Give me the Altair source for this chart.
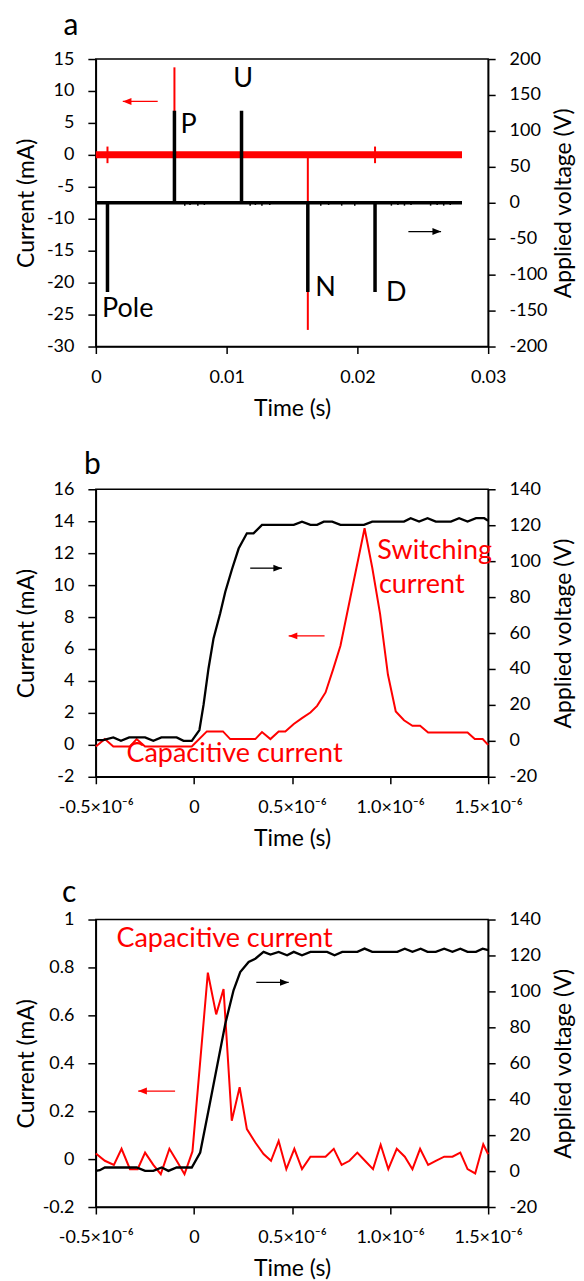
import altair as alt
import pandas as pd

FONT = "Lato"
RED = "#ff0000"
BLACK = "#000000"

# ---------------- panel a (time in s) ----------------
a_volt_t = [0.0, 0.00089, 0.00089, 0.00089, 0.00601, 0.00601, 0.00601, 0.01114, 0.01114, 0.01114,
            0.01621, 0.01621, 0.01621, 0.02135, 0.02135, 0.02135, 0.028]
a_volt_v = [0, 0, -124, 0, 0, 128, 0, 0, 128, 0, 0, -124, 0, 0, -124, 0, 0]
a_noise_t = [0.0068, 0.0072, 0.0078, 0.0083, 0.0118, 0.0122, 0.0127, 0.0133,
             0.0172, 0.0178, 0.0188, 0.0198, 0.0226, 0.0231, 0.0236, 0.0241,
             0.0256, 0.0261, 0.0266, 0.0271]
a_noise_v = [-4, -3, -4, -3, -4, -3, -4, -3, -4, -3, -4, -4, -4, -3, -4, -3, -4, -3, -4, -3]
a_base_t = [0.0, 0.028]
a_base_i = [0.0, 0.0]
a_spike_t = [0.00089, 0.00601, 0.01621, 0.02135]
a_spike_lo = [-1.3, 0.0, -27.4, -1.3]
a_spike_hi = [1.3, 13.7, 0.0, 1.3]
a_labels = ["Pole", "P", "U", "N", "D"]
a_label_t = [0.00244, 0.0071, 0.01126, 0.01756, 0.02298]
a_label_i = [-24.1, 4.6, 11.8, -20.9, -21.7]

# ---------------- panel b (time in microseconds) ----------------
b_volt_t = [-0.5, -0.463, -0.411, -0.372, -0.33, -0.249, -0.207, -0.166, -0.088, -0.053, -0.011,
            0.028, 0.049, 0.074, 0.100, 0.134, 0.160, 0.194, 0.228, 0.270, 0.304, 0.347, 0.509,
            0.551, 0.594, 0.628, 0.662, 0.705, 0.747, 0.867, 0.909, 1.071, 1.105, 1.148, 1.191,
            1.233, 1.310, 1.352, 1.395, 1.438, 1.48, 1.5]
b_volt_v = [0.4, 0.4, 1.9, 0.0, 1.9, 1.9, 0.0, 1.9, 1.9, 0.0, 0.0,
            6.0, 20.0, 40.0, 57.0, 71.0, 83.0, 95.5, 107.0, 115.5, 115.5, 120.2, 120.2,
            122.0, 120.2, 120.2, 122.0, 122.0, 120.2, 120.2, 122.0, 122.0, 123.9, 122.0, 123.9,
            122.0, 122.0, 123.9, 122.0, 123.9, 123.9, 122.5]
b_cur_t = [-0.5, -0.454, -0.411, -0.326, -0.292, -0.249, -0.011, 0.066, 0.148, 0.185, 0.313,
           0.347, 0.390, 0.432, 0.466, 0.509, 0.551, 0.594, 0.628, 0.671, 0.710, 0.747, 0.870,
           0.909, 0.949, 0.989, 1.029, 1.071, 1.114, 1.153, 1.194, 1.395, 1.432, 1.472, 1.5]
b_cur_i = [-0.1, 0.36, -0.1, -0.1, 0.36, -0.1, -0.1, 0.84, 0.84, 0.36, 0.36,
           0.8, 0.36, 0.84, 0.84, 1.3, 1.67, 2.02, 2.44, 3.28, 4.74, 6.2, 13.56,
           11.1, 8.2, 4.4, 2.09, 1.54, 1.19, 1.19, 0.77, 0.77, 0.36, 0.36, 0.0]
b_labels = ["Switching", "current", "Capacitive current"]
b_label_t = [0.935, 0.943, -0.344]
b_label_i = [12.14, 10.0, -0.55]

# ---------------- panel c (time in microseconds) ----------------
c_volt_t = [-0.5, -0.48, -0.454, -0.292, -0.249, -0.207, -0.164, -0.130, -0.088, -0.011, 0.032,
            0.074, 0.117, 0.160, 0.202, 0.236, 0.279, 0.313, 0.355, 0.390, 0.432, 0.475, 0.509,
            0.551, 0.594, 0.679, 0.717, 0.756, 0.833, 0.870, 0.909, 1.037, 1.075, 1.114, 1.156,
            1.191, 1.233, 1.276, 1.318, 1.358, 1.395, 1.438, 1.472, 1.5]
c_volt_v = [0.1, 0.5, 2.0, 2.0, 0.1, 0.1, 2.0, 0.1, 2.0, 2.0, 10.3,
            33.6, 57.8, 82.0, 100.6, 110.8, 116.4, 118.2, 122.0, 120.5, 122.0, 120.1, 122.0,
            120.1, 122.0, 122.0, 120.1, 122.0, 122.0, 123.8, 122.0, 122.0, 123.8, 122.0, 123.8,
            122.0, 122.0, 123.8, 122.0, 123.8, 122.0, 122.0, 123.8, 123.0]
c_cur_t = [-0.5, -0.454, -0.408, -0.369, -0.326, -0.287, -0.249, -0.207, -0.169, -0.125, -0.088,
           -0.048, -0.0075, 0.071, 0.1135, 0.151, 0.193, 0.233, 0.270, 0.313, 0.355, 0.393,
           0.432, 0.471, 0.512, 0.551, 0.594, 0.671, 0.713, 0.753, 0.793, 0.833, 0.872, 0.913,
           0.952, 0.991, 1.034, 1.075, 1.114, 1.153, 1.194, 1.233, 1.276, 1.318, 1.358, 1.395,
           1.434, 1.475, 1.5]
c_cur_i = [0.023, -0.007, -0.024, 0.043, -0.042, -0.042, 0.027, -0.024, -0.063, 0.043, -0.007,
           -0.063, 0.032, 0.778, 0.604, 0.710, 0.160, 0.300, 0.125, 0.069, 0.021, -0.007,
           0.076, -0.042, 0.043, -0.042, 0.010, 0.010, 0.043, -0.024, -0.007, 0.027, -0.007, -0.042,
           0.060, -0.042, 0.043, 0.010, -0.042, 0.043, -0.024, -0.007, 0.010, 0.010, 0.027, -0.042,
           -0.060, 0.062, 0.020]
c_labels = ["Capacitive current"]
c_label_t = [-0.395]
c_label_i = [0.9175]

# panel letters (placed above each plot, in that panel's time / current units)
letters = ["a", "b", "c"]
letter_t = [-0.00248, -0.56, -0.672]
letter_i = [18.7, 16.98, 1.0737]

# arrows: start x, tip x, y   (red on current axis, black on voltage axis)
a_red_arrow = ([0.00473], [0.00206], [8.36])
a_blk_arrow = ([0.0239], [0.0264], [-40.0])
b_red_arrow = ([0.666], [0.483], [6.82])
b_blk_arrow = ([0.287], [0.449], [96.1])
c_red_arrow = ([-0.096], [-0.284], [0.284])
c_blk_arrow = ([0.318], [0.483], [105.0])

W, H = 393, 288
LEFT_HEAD = "M0,0 L1,-0.4 L1,0.4 Z"
RIGHT_HEAD = "M0,0 L-1,-0.4 L-1,0.4 Z"


def xenc(field, dom, vals, expr):
    return alt.X(f"{field}:Q",
                 scale=alt.Scale(domain=dom, nice=False, zero=False),
                 axis=alt.Axis(values=vals, labelExpr=expr, title="Time (s)",
                               titleX=W / 2, titleY=62, titleAlign="center",
                               titleBaseline="middle", labelPadding=15, tickSize=7,
                               labelFlush=False, labelOverlap=False))


def yleft(field, dom, vals):
    return alt.Y(f"{field}:Q",
                 scale=alt.Scale(domain=dom, nice=False, zero=False),
                 axis=alt.Axis(values=vals, labelExpr="'' + datum.value", title="Current (mA)",
                               orient="left", titleX=-69, titleY=H / 2, titleAngle=270,
                               titleAlign="center", titleBaseline="middle",
                               labelPadding=14, tickSize=8, labelOverlap=False,
                               labelFlush=False))


def yright(field, dom, vals):
    return alt.Y(f"{field}:Q",
                 scale=alt.Scale(domain=dom, nice=False, zero=False),
                 axis=alt.Axis(values=vals, labelExpr="'' + datum.value",
                               title="Applied voltage (V)", orient="right",
                               titleX=75, titleY=H / 2, titleAngle=270,
                               titleAlign="center", titleBaseline="middle",
                               labelPadding=14, tickSize=7, labelOverlap=False,
                               labelFlush=False))


def arrow(arr, X, Y, color, head):
    df = pd.DataFrame({"x1": arr[0], "x2": arr[1], "y": arr[2]})
    base = alt.Chart(df)
    rule = base.mark_rule(color=color, strokeWidth=1.3).encode(
        x=X("x1"), x2="x2", y=Y("y"))
    tip = base.mark_point(shape=head, filled=True, size=300, color=color, opacity=1,
                          strokeWidth=0).encode(x=X("x2"), y=Y("y"))
    return [rule, tip]


def labels(names, ts, ys, X, Y, color, align):
    df = pd.DataFrame({"label": names, "t": ts, "y": ys})
    return alt.Chart(df).mark_text(font=FONT, fontSize=27, color=color, align=align,
                                   baseline="middle").encode(x=X("t"), y=Y("y"), text="label")


def letter(k, X, Y):
    df = pd.DataFrame({"label": [letters[k]], "t": [letter_t[k]], "y": [letter_i[k]]})
    return alt.Chart(df).mark_text(font=FONT, fontSize=30, color=BLACK, align="left",
                                   baseline="alphabetic").encode(x=X("t"), y=Y("y"), text="label")


# ---------- panel a ----------
XA = lambda f: xenc(f, [0, 0.03], [0, 0.01, 0.02, 0.03], "'' + datum.value")
YAL = lambda f: yleft(f, [-30, 15], list(range(-30, 16, 5)))
YAR = lambda f: yright(f, [-200, 200], list(range(-200, 201, 50)))

a_base = alt.Chart(pd.DataFrame({"t": a_base_t, "i": a_base_i})).mark_line(
    color=RED, strokeWidth=7).encode(x=XA("t"), y=YAL("i"))
a_spk = alt.Chart(pd.DataFrame({"t": a_spike_t, "lo": a_spike_lo, "hi": a_spike_hi})).mark_rule(
    color=RED, strokeWidth=2).encode(x=XA("t"), y=YAL("lo"), y2="hi")
a_lab = labels(a_labels, a_label_t, a_label_i, XA, YAL, BLACK, "center")
a_left = alt.layer(a_base, a_spk, *arrow(a_red_arrow, XA, YAL, RED, LEFT_HEAD), a_lab,
                   letter(0, XA, YAL))

a_volt = alt.Chart(pd.DataFrame({"t": a_volt_t, "v": a_volt_v, "k": range(len(a_volt_t))})).mark_line(
    color=BLACK, strokeWidth=3.5, strokeJoin="bevel").encode(x=XA("t"), y=YAR("v"), order="k:Q")
a_noise = alt.Chart(pd.DataFrame({"t": a_noise_t, "v": a_noise_v, "z": [0] * len(a_noise_t)})).mark_rule(
    color=BLACK, strokeWidth=1.5).encode(x=XA("t"), y=YAR("v"), y2="z")
a_right = alt.layer(a_volt, a_noise, *arrow(a_blk_arrow, XA, YAR, BLACK, RIGHT_HEAD))

panel_a = alt.layer(a_left, a_right).resolve_scale(y="independent").properties(
    width=W, height=H)

# ---------- panel b / c ----------
XEXPR = ("datum.value == 0 ? '0' : (datum.value < 0 ? '-' : '') + "
         "format(abs(datum.value), '.1f') + '×10⁻⁶'")
XB = lambda f: xenc(f, [-0.5, 1.5], [-0.5, 0, 0.5, 1.0, 1.5], XEXPR)
YBL = lambda f: yleft(f, [-2, 16], list(range(-2, 17, 2)))
YBR = lambda f: yright(f, [-20, 140], list(range(-20, 141, 20)))
YCL = lambda f: yleft(f, [-0.2, 1], [-0.2, 0, 0.2, 0.4, 0.6, 0.8, 1])

b_cur = alt.Chart(pd.DataFrame({"t": b_cur_t, "i": b_cur_i})).mark_line(
    color=RED, strokeWidth=2).encode(x=XB("t"), y=YBL("i"))
b_lab = labels(b_labels, b_label_t, b_label_i, XB, YBL, RED, "left")
b_left = alt.layer(b_cur, *arrow(b_red_arrow, XB, YBL, RED, LEFT_HEAD), b_lab,
                   letter(1, XB, YBL))
b_volt = alt.Chart(pd.DataFrame({"t": b_volt_t, "v": b_volt_v})).mark_line(
    color=BLACK, strokeWidth=2.3).encode(x=XB("t"), y=YBR("v"))
b_right = alt.layer(b_volt, *arrow(b_blk_arrow, XB, YBR, BLACK, RIGHT_HEAD))
panel_b = alt.layer(b_left, b_right).resolve_scale(y="independent").properties(
    width=W, height=H)

c_cur = alt.Chart(pd.DataFrame({"t": c_cur_t, "i": c_cur_i})).mark_line(
    color=RED, strokeWidth=2).encode(x=XB("t"), y=YCL("i"))
c_lab = labels(c_labels, c_label_t, c_label_i, XB, YCL, RED, "left")
c_left = alt.layer(c_cur, *arrow(c_red_arrow, XB, YCL, RED, LEFT_HEAD), c_lab,
                   letter(2, XB, YCL))
c_volt = alt.Chart(pd.DataFrame({"t": c_volt_t, "v": c_volt_v})).mark_line(
    color=BLACK, strokeWidth=2.3).encode(x=XB("t"), y=YBR("v"))
c_right = alt.layer(c_volt, *arrow(c_blk_arrow, XB, YBR, BLACK, RIGHT_HEAD))
panel_c = alt.layer(c_left, c_right).resolve_scale(y="independent").properties(
    width=W, height=H)

chart = alt.vconcat(panel_a, panel_b, panel_c, spacing=143, bounds="flush").properties(
    padding={"left": 7, "top": 1, "right": 0, "bottom": 0},
    background="white"
).configure_view(stroke=BLACK, strokeWidth=1.5).configure_axis(
    domainColor=BLACK, domainWidth=1.5, tickColor=BLACK, tickWidth=1.5,
    labelFont=FONT, labelFontSize=18, labelColor=BLACK,
    titleFont=FONT, titleFontSize=23, titleFontWeight="normal", titleColor=BLACK,
    grid=False
)

chart.save("out.html", embed_options={"renderer": "svg", "actions": False})
